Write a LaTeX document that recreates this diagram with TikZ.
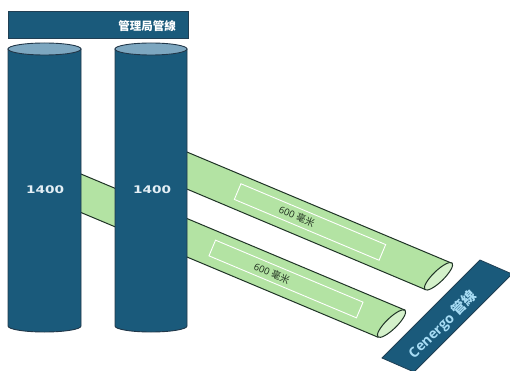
\documentclass[tikz,border=0pt]{standalone}
\usepackage{fontspec}
\usepackage{graphicx}
\setmainfont{Open Sans}
\newfontfamily\cjk{Noto Sans CJK TC}
\newfontfamily\dvs{DejaVu Sans}
\definecolor{darkblue}{HTML}{1A5A7B}
\definecolor{cyltopc}{HTML}{7DA7C0}
\definecolor{cyledge}{HTML}{22384A}
\definecolor{pipegreen}{HTML}{B3E3A3}
\definecolor{pipeedge}{HTML}{1F3326}
\definecolor{pipeendc}{HTML}{D4F1CA}
\definecolor{cenergoc}{HTML}{A8DDF5}
\definecolor{digitc}{HTML}{E4EFF5}
\definecolor{pipetext}{HTML}{1C2B1C}
\begin{document}
\begin{tikzpicture}[x=1pt,y=-1pt,
  pipebody/.style={fill=pipegreen, draw=pipeedge, line width=1pt, line join=round},
  pipeend/.style={fill=pipeendc, draw=pipeedge, line width=1pt},
  innerbox/.style={draw=white, line width=0.9pt, inner sep=0pt, minimum height=17pt, rotate=-22.8},
  pipelabel/.style={rotate=-22.8, text=pipetext, inner sep=0pt, font=\fontsize{9.5}{9.5}\selectfont},
  cylbody/.style={fill=darkblue, draw=cyledge, line width=0.9pt},
  cyltop/.style={fill=cyltopc, draw=cyledge, line width=0.9pt},
  digits/.style={text=digitc, inner sep=0pt, font=\dvs\bfseries\fontsize{10.5}{10.5}\selectfont},
  bannerbox/.style={fill=darkblue, draw=cyledge!80!darkblue, line width=0.8pt}
]
\useasboundingbox (0,0) rectangle (510,371);
\clip (0,0) rectangle (510,371);

% lower pipe (from cylinder 1)
\draw[pipebody] (50,161) -- (405,310.1) -- (378,337.2) -- (50,199.5) -- cycle;
\begin{scope}[shift={(391.5,323.6)}, rotate=44.2]
  \draw[pipeend] (0,0) ellipse [x radius=19, y radius=5.5];
\end{scope}
\node[innerbox, minimum width=160pt] (boxb) at (286,279) {};
\node[pipelabel] (labb) at (272,273.5) {600 {\cjk 毫米}};

% upper pipe (from cylinder 2)
\draw[pipebody] (150,136.5) -- (452,263.3) -- (425,289.4) -- (150,173.5) -- cycle;
\begin{scope}[shift={(438.5,276.3)}, rotate=44.2]
  \draw[pipeend] (0,0) ellipse [x radius=19, y radius=5.5];
\end{scope}
\node[innerbox, minimum width=157pt] (boxa) at (310,222) {};
\node[pipelabel] (laba) at (297,216.5) {600 {\cjk 毫米}};

% cylinder 1
\draw[cylbody] (8,49) -- (8,326) arc[start angle=180, end angle=0, x radius=36.5, y radius=6] -- (81,49) -- cycle;
\draw[cyltop] (44.5,49) ellipse [x radius=36.5, y radius=6];
\node[digits] (d1) at (45,190) {\scalebox{1.3}[1]{1400}};

% cylinder 2
\draw[cylbody] (115,49) -- (115,326) arc[start angle=180, end angle=0, x radius=36, y radius=6] -- (187,49) -- cycle;
\draw[cyltop] (151,49) ellipse [x radius=36, y radius=6];
\node[digits] (d2) at (152,190) {\scalebox{1.3}[1]{1400}};

% top banner
\node[bannerbox, anchor=north west, minimum width=180pt, minimum height=27pt, inner sep=0pt] (mgmt) at (8,11) {};
\node[text=white, inner sep=0pt, font=\cjk\bfseries\fontsize{11.5}{11.5}\selectfont] (mgmtlab) at (147,26) {管理局管線};

% Cenergo banner
\draw[bannerbox] (382,358) -- (480,260) -- (512,274) -- (414,372) -- cycle;
\node[rotate=44.2, text=cenergoc, inner sep=0pt, font=\bfseries\fontsize{14}{14}\selectfont] (cen) at (443,325) {Cenergo {\cjk\bfseries 管線}};
\end{tikzpicture}
\end{document}
